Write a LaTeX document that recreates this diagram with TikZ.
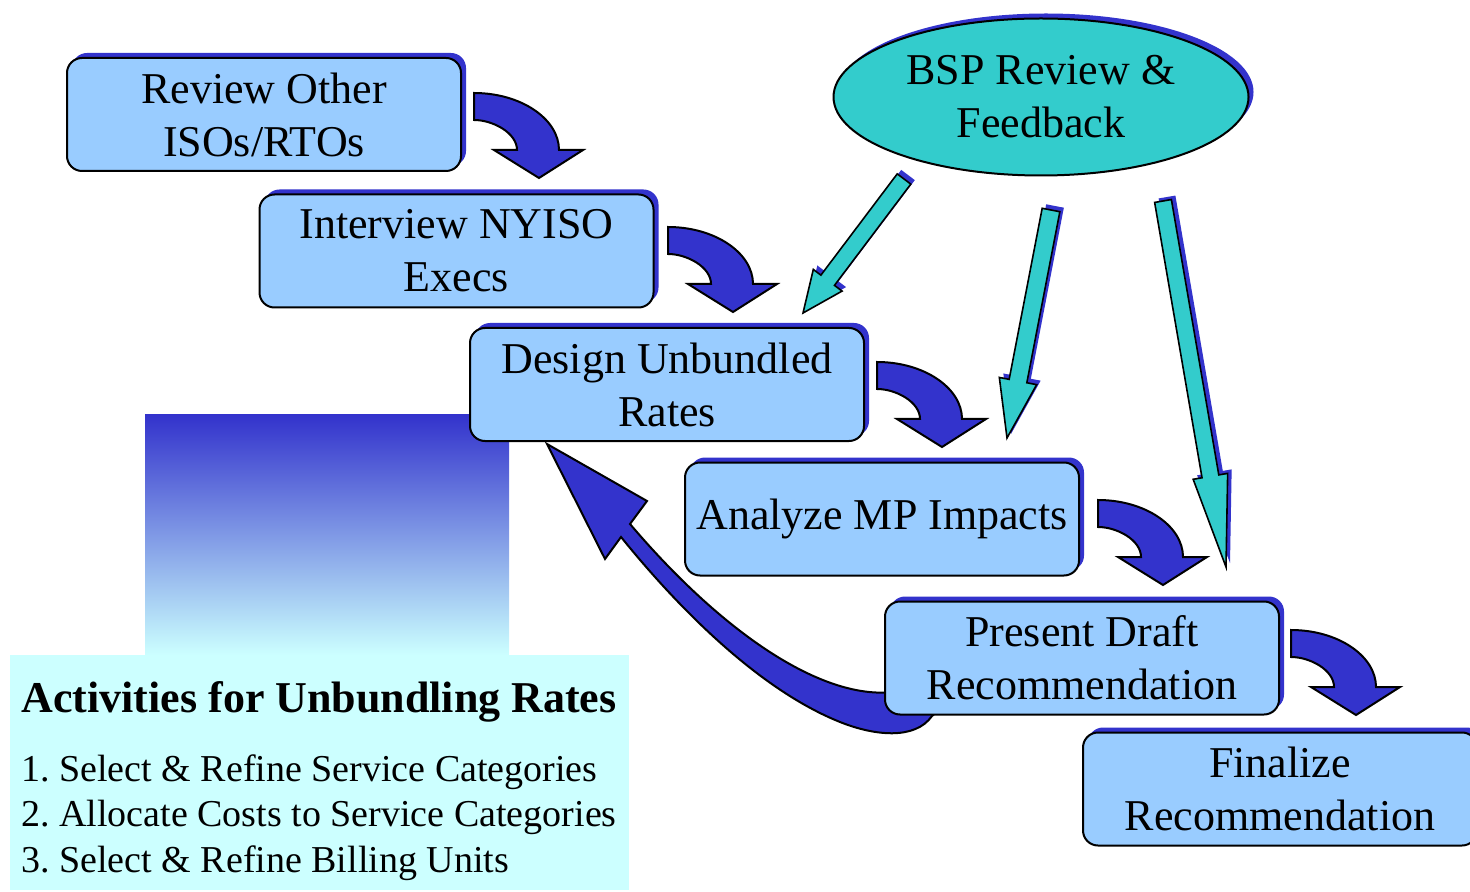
\documentclass[tikz,border=0pt]{standalone}
\usepackage{fontspec}
\setmainfont{Liberation Serif}
\frenchspacing
\usetikzlibrary{shadows,calc,shapes.geometric}
\definecolor{sblue}{HTML}{3333CC}
\definecolor{boxblue}{HTML}{99CCFF}
\definecolor{tealc}{HTML}{33CCCC}
\definecolor{lcyan}{HTML}{CCFFFF}
\pgfdeclarelayer{background}
\pgfsetlayers{background,main}
\newcommand\tealarrow[5]{%
  \coordinate (hb) at ($(#2)!#5!(#1)$);
  \draw[line width=0.8pt, line join=miter, fill=tealc,
        general shadow={fill=sblue, shadow xshift=2pt, shadow yshift=2pt}]
    ($(#1)!#3!90:(#2)$) -- ($(hb)!#3!90:(#2)$) -- ($(hb)!#4!90:(#2)$) -- (#2)
    -- ($(hb)!#4!-90:(#2)$) -- ($(hb)!#3!-90:(#2)$) -- ($(#1)!#3!-90:(#2)$) -- cycle;}
\tikzset{
  bendarrow/.pic={
    \draw[line width=1pt, line join=miter, fill=sblue]
      (0,0) .. controls (47,0) and (85,26) .. (85,57) -- (109,57) -- (65,85)
      -- (20,57) -- (43,57) .. controls (43,40) and (19,27) .. (0,27) -- cycle;}
}
\begin{document}
\begin{tikzpicture}[x=0.5pt,y=-0.5pt,
  stepbox/.style={draw=black, line width=1pt, fill=boxblue, rounded corners=7.5pt,
    minimum width=197pt, minimum height=56.5pt, inner sep=0pt, align=center,
    font=\fontsize{22}{26.5}\selectfont,
    general shadow={fill=sblue, shadow xshift=2.5pt, shadow yshift=2.5pt}},
  bspnode/.style={ellipse, draw=black, line width=1pt, fill=tealc,
    minimum width=207.5pt, minimum height=78.5pt, inner sep=0pt, align=center,
    font=\fontsize{22}{26.5}\selectfont,
    general shadow={fill=sblue, shadow xshift=2.5pt, shadow yshift=2.5pt}},
  listtext/.style={anchor=base west, inner sep=0pt, font=\fontsize{19}{22}\selectfont},
  headtext/.style={anchor=base west, inner sep=0pt, font=\bfseries\fontsize{22}{26}\selectfont}
]
\useasboundingbox (0,0) rectangle (1470,892);

% boxes
\node[stepbox] (b1) at (264,114.5) {Review Other\\ISOs/RTOs};
\node[stepbox] (b2) at (456.5,251) {Interview NYISO\\Execs};
\node[stepbox] (b3) at (667,384.5) {Design Unbundled\\Rates};
\node[stepbox] (b4) at (882,519) {Analyze MP Impacts};
\node[stepbox] (b5) at (1082,658) {Present Draft\\Recommendation};
\node[stepbox] (b6) at (1280,789) {Finalize\\Recommendation};
\node[bspnode] (bsp) at (1041,97) {BSP Review \&\\Feedback};

% background: gradient block, activity box, return arrow
\begin{pgfonlayer}{background}
  \shade[top color=sblue, bottom color=lcyan] (145,415) rectangle (509,655);
  \fill[lcyan] (10,655) rectangle (629,890);
  \coordinate (rtip) at ($(b3.south west)+(78,2)$);
  \draw[line width=1pt, line join=miter, fill=sblue]
    (rtip) -- (647,501) -- (630,524) .. controls (720,630) and (820,700) .. (893,692)
    -- (945,705) -- (932,716) .. controls (915,740) and (875,736) .. (840,722)
    .. controls (760,690) and (680,610) .. (621,537) -- (605,559) -- cycle;
\end{pgfonlayer}

% bend arrows between steps
\pic at ($(b1.east)+(12,-21.5)$) {bendarrow};
\pic at ($(b2.east)+(13.5,-24)$) {bendarrow};
\pic at ($(b3.east)+(12,-22.5)$) {bendarrow};
\pic at ($(b4.east)+(18,-19)$) {bendarrow};
\pic at ($(b5.east)+(11,-28)$) {bendarrow};

% feedback arrows
\coordinate (f1s) at (904,179);  \coordinate (f1e) at (803,313);
\coordinate (f2s) at (1051,210); \coordinate (f2e) at (1007,438);
\coordinate (f3s) at (1163,201); \coordinate (f3e) at (1226,567);
\tealarrow{f1s}{f1e}{4.25pt}{9pt}{20.5pt}
\tealarrow{f2s}{f2e}{4.5pt}{9.5pt}{29pt}
\tealarrow{f3s}{f3e}{4.25pt}{8.75pt}{46pt}

% activities text
\node[headtext] (hd) at (21,712) {Activities for Unbundling Rates};
\node[listtext] (i1) at (21,781) {1. Select \& Refine Service Categories};
\node[listtext] (i2) at (21,826) {2. Allocate Costs to Service Categories};
\node[listtext] (i3) at (21,872) {3. Select \& Refine Billing Units};
\end{tikzpicture}
\end{document}
